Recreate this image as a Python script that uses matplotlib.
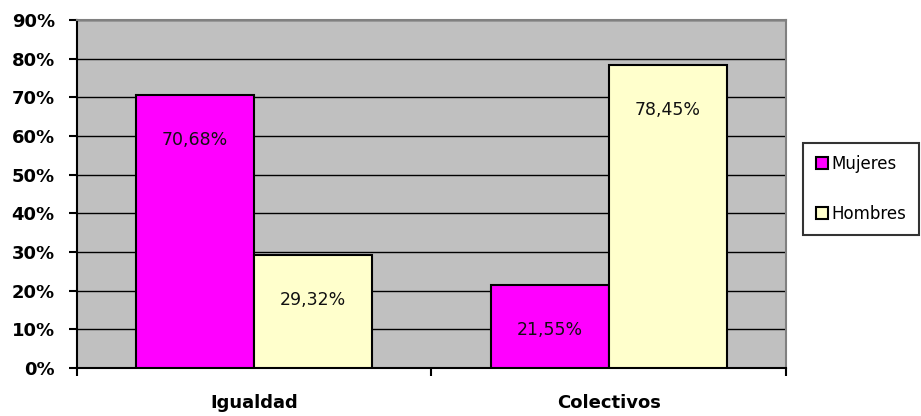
import numpy as np
import matplotlib.pyplot as plt
from matplotlib.ticker import FixedLocator

categorias = ['Igualdad', 'Colectivos']
mujeres = [70.68, 21.55]
hombres = [29.32, 78.45]
etiquetas_y = ['0%', '10%', '20%', '30%', '40%', '50%', '60%', '70%', '80%', '90%']

fig = plt.figure(figsize=(9.21, 4.16), dpi=100)
ax = fig.add_axes([0.0836, 0.1154, 0.7698, 0.8366])
ax.set_facecolor('#c0c0c0')

x = np.arange(len(categorias))
ancho = 1 / 3
b1 = ax.bar(x - ancho / 2, mujeres, ancho, color='#ff00ff', edgecolor='black',
            linewidth=1.5, label='Mujeres', zorder=3)
b2 = ax.bar(x + ancho / 2, hombres, ancho, color='#ffffcc', edgecolor='black',
            linewidth=1.5, label='Hombres', zorder=3)

# etiquetas de valor dentro de cada barra, cerca del extremo superior
for barras, valores in [(b1, mujeres), (b2, hombres)]:
    for rect, v in zip(barras, valores):
        ax.text(rect.get_x() + rect.get_width() / 2, v - 11.7,
                f'{v:.2f}%'.replace('.', ','), ha='center', va='center',
                fontsize=12.5, color='#111111', zorder=4)

ax.set_xlim(-0.5, 1.5)
ax.set_ylim(0, 90)
ax.set_yticks(np.arange(0, 91, 10))
ax.set_yticklabels(etiquetas_y, fontsize=13, fontweight='bold')
ax.yaxis.grid(True, color='black', linewidth=1.0, zorder=1)
ax.set_axisbelow(True)

ax.set_xticks(x)
ax.set_xticklabels(categorias, fontsize=13, fontweight='bold')
ax.tick_params(axis='x', which='major', length=0, pad=19)
ax.xaxis.set_minor_locator(FixedLocator([-0.5, 0.5, 1.5]))
ax.tick_params(axis='x', which='minor', length=6, width=1.5, direction='out')
ax.tick_params(axis='y', length=6, width=1.5, direction='out', pad=10)

for lado in ['left', 'bottom']:
    ax.spines[lado].set_linewidth(1.5)
    ax.spines[lado].set_color('black')
for lado in ['top', 'right']:
    ax.spines[lado].set_linewidth(1.5)
    ax.spines[lado].set_color('#808080')

leg = fig.legend(handles=[b1, b2], loc='center left', bbox_to_anchor=(0.872, 0.546),
                 fontsize=12, frameon=True, fancybox=False, edgecolor='black',
                 handlelength=0.75, handleheight=0.75, handletextpad=0.2,
                 labelspacing=1.9, borderpad=0.75, borderaxespad=0)
leg.get_frame().set_linewidth(1.5)

fig.savefig('out.png', dpi=100)
